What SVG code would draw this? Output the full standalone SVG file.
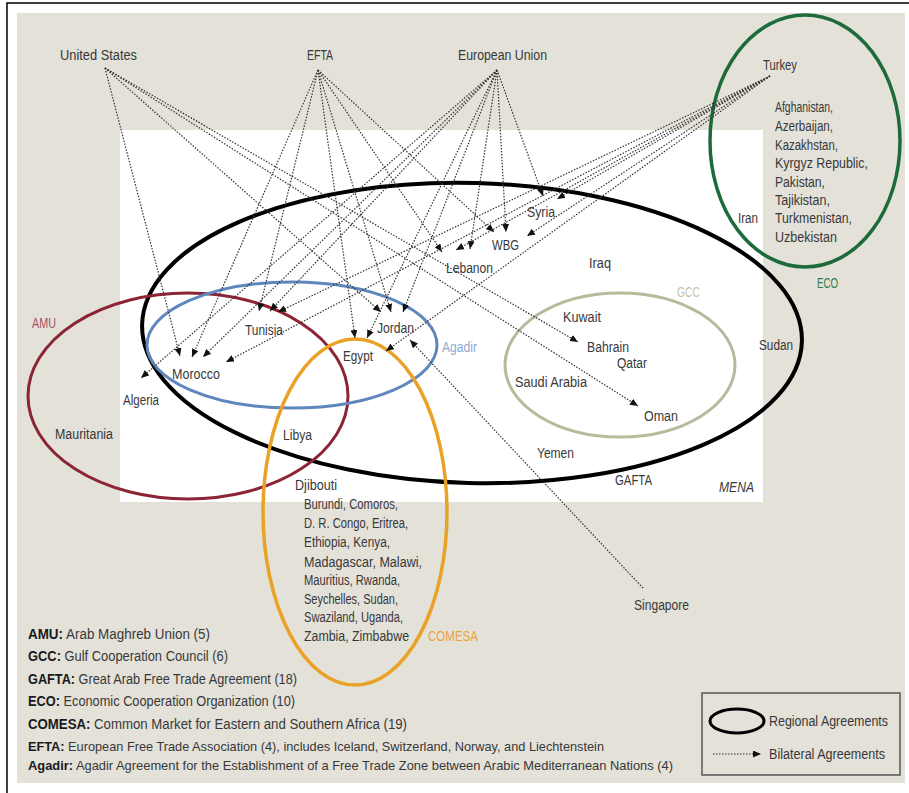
<svg xmlns="http://www.w3.org/2000/svg" width="909" height="793" viewBox="0 0 909 793">
<defs>
<style>
.t{font-family:"Liberation Sans",Arial,sans-serif;font-size:14px;fill:#383838}
.lg{font-family:"Liberation Sans",Arial,sans-serif;font-size:14px;fill:#383838}
.lg2{font-size:13.5px}
.b{font-weight:bold;fill:#1a1a1a}
.c{stroke:#333;stroke-width:1.2;stroke-dasharray:1.5 1.5;fill:none;marker-end:url(#ah)}
.reg{fill:none}
</style>
<marker id="ah" viewBox="0 0 8 7" refX="8" refY="3.5" markerWidth="8" markerHeight="7" markerUnits="userSpaceOnUse" orient="auto"><path d="M0,0 L8,3.5 L0,7 z" fill="#111"/></marker>
</defs>
<rect x="7" y="3" width="910" height="800" fill="#fff" stroke="#000" stroke-width="1.5"/>
<rect x="17" y="13" width="888" height="770" fill="#e4e1d9"/>
<rect x="120" y="130" width="643" height="372" fill="#fff"/>

<g id="regions">
<g id="GAFTA-region"><ellipse class="reg" cx="472" cy="333" rx="330" ry="150" transform="rotate(1.5 472 333)" stroke="#000" stroke-width="4"/></g>
<g id="AMU-region"><ellipse class="reg" cx="188" cy="396" rx="160" ry="103" stroke="#8b2535" stroke-width="3"/></g>
<g id="Agadir-region"><ellipse class="reg" cx="292" cy="345" rx="145" ry="63" stroke="#5d87bd" stroke-width="3"/></g>
<g id="COMESA-region"><ellipse class="reg" cx="355" cy="512" rx="92" ry="173" stroke="#e9a226" stroke-width="3.5"/></g>
<g id="GCC-region"><ellipse class="reg" cx="620" cy="365" rx="115" ry="72" stroke="#b9b99b" stroke-width="3"/></g>
<g id="ECO-region"><ellipse class="reg" cx="805" cy="141" rx="95" ry="126" stroke="#1d6b3b" stroke-width="3.5"/></g>
</g>

<g id="connectors">
<line class="c" x1="105" y1="68" x2="180" y2="356"/>
<line class="c" x1="105" y1="68" x2="381" y2="312"/>
<line class="c" x1="105" y1="68" x2="578" y2="342"/>
<line class="c" x1="105" y1="68" x2="638" y2="406"/>
<line class="c" x1="318" y1="70" x2="192" y2="357"/>
<line class="c" x1="318" y1="70" x2="259" y2="311"/>
<line class="c" x1="318" y1="70" x2="391" y2="312"/>
<line class="c" x1="318" y1="70" x2="355" y2="338"/>
<line class="c" x1="318" y1="70" x2="442" y2="252"/>
<line class="c" x1="318" y1="70" x2="494" y2="232"/>
<line class="c" x1="497" y1="70" x2="141" y2="378"/>
<line class="c" x1="497" y1="70" x2="203" y2="357"/>
<line class="c" x1="497" y1="70" x2="270" y2="311"/>
<line class="c" x1="497" y1="70" x2="367" y2="338"/>
<line class="c" x1="497" y1="70" x2="403" y2="312"/>
<line class="c" x1="497" y1="70" x2="470" y2="249"/>
<line class="c" x1="497" y1="70" x2="506" y2="232"/>
<line class="c" x1="497" y1="70" x2="543" y2="196"/>
<line class="c" x1="770" y1="76" x2="226" y2="362"/>
<line class="c" x1="770" y1="76" x2="278" y2="312"/>
<line class="c" x1="770" y1="76" x2="386" y2="351"/>
<line class="c" x1="770" y1="76" x2="456" y2="250"/>
<line class="c" x1="770" y1="76" x2="527" y2="236"/>
<line class="c" x1="770" y1="76" x2="557" y2="199"/>
<line class="c" x1="643" y1="588" x2="410" y2="340"/>
</g>

<g id="partners">
<g id="n-us"><text class="t" x="60" y="60" textLength="77" lengthAdjust="spacingAndGlyphs">United States</text></g>
<g id="n-efta"><text class="t" x="307" y="60" textLength="26" lengthAdjust="spacingAndGlyphs">EFTA</text></g>
<g id="n-eu"><text class="t" x="458" y="60" textLength="89" lengthAdjust="spacingAndGlyphs">European Union</text></g>
<g id="n-turkey"><text class="t" x="763" y="70" textLength="34" lengthAdjust="spacingAndGlyphs">Turkey</text></g>
<g id="n-singapore"><text class="t" x="634" y="610" textLength="55" lengthAdjust="spacingAndGlyphs">Singapore</text></g>
</g>

<g id="countries">
<g id="n-eco-list">
<text class="t" x="775" y="112" textLength="58" lengthAdjust="spacingAndGlyphs">Afghanistan,</text>
<text class="t" x="775" y="131" textLength="58" lengthAdjust="spacingAndGlyphs">Azerbaijan,</text>
<text class="t" x="775" y="150" textLength="63" lengthAdjust="spacingAndGlyphs">Kazakhstan,</text>
<text class="t" x="775" y="168" textLength="93" lengthAdjust="spacingAndGlyphs">Kyrgyz Republic,</text>
<text class="t" x="775" y="187" textLength="50" lengthAdjust="spacingAndGlyphs">Pakistan,</text>
<text class="t" x="775" y="205" textLength="55" lengthAdjust="spacingAndGlyphs">Tajikistan,</text>
<text class="t" x="775" y="223" textLength="77" lengthAdjust="spacingAndGlyphs">Turkmenistan,</text>
<text class="t" x="775" y="242" textLength="62" lengthAdjust="spacingAndGlyphs">Uzbekistan</text>
</g>
<g id="n-iran"><text class="t" x="738" y="223" textLength="20" lengthAdjust="spacingAndGlyphs">Iran</text></g>
<g id="n-syria"><text class="t" x="527" y="217" textLength="28" lengthAdjust="spacingAndGlyphs">Syria</text></g>
<g id="n-wbg"><text class="t" x="492" y="250" textLength="27" lengthAdjust="spacingAndGlyphs">WBG</text></g>
<g id="n-lebanon"><text class="t" x="446" y="273" textLength="47" lengthAdjust="spacingAndGlyphs">Lebanon</text></g>
<g id="n-iraq"><text class="t" x="589" y="268" textLength="22" lengthAdjust="spacingAndGlyphs">Iraq</text></g>
<g id="n-kuwait"><text class="t" x="563" y="322" textLength="38" lengthAdjust="spacingAndGlyphs">Kuwait</text></g>
<g id="n-bahrain"><text class="t" x="587" y="352" textLength="42" lengthAdjust="spacingAndGlyphs">Bahrain</text></g>
<g id="n-qatar"><text class="t" x="617" y="368" textLength="30" lengthAdjust="spacingAndGlyphs">Qatar</text></g>
<g id="n-saudi"><text class="t" x="515" y="387" textLength="72" lengthAdjust="spacingAndGlyphs">Saudi Arabia</text></g>
<g id="n-oman"><text class="t" x="644" y="421" textLength="34" lengthAdjust="spacingAndGlyphs">Oman</text></g>
<g id="n-sudan"><text class="t" x="759" y="350" textLength="34" lengthAdjust="spacingAndGlyphs">Sudan</text></g>
<g id="n-yemen"><text class="t" x="537" y="458" textLength="37" lengthAdjust="spacingAndGlyphs">Yemen</text></g>
<g id="n-jordan"><text class="t" x="377" y="333" textLength="37" lengthAdjust="spacingAndGlyphs">Jordan</text></g>
<g id="n-egypt"><text class="t" x="343" y="361" textLength="30" lengthAdjust="spacingAndGlyphs">Egypt</text></g>
<g id="n-tunisia"><text class="t" x="245" y="335" textLength="38" lengthAdjust="spacingAndGlyphs">Tunisia</text></g>
<g id="n-morocco"><text class="t" x="172" y="379" textLength="48" lengthAdjust="spacingAndGlyphs">Morocco</text></g>
<g id="n-algeria"><text class="t" x="123" y="405" textLength="36" lengthAdjust="spacingAndGlyphs">Algeria</text></g>
<g id="n-mauritania"><text class="t" x="55" y="439" textLength="58" lengthAdjust="spacingAndGlyphs">Mauritania</text></g>
<g id="n-libya"><text class="t" x="283" y="440" textLength="29" lengthAdjust="spacingAndGlyphs">Libya</text></g>
<g id="n-djibouti"><text class="t" x="295" y="490" textLength="42" lengthAdjust="spacingAndGlyphs">Djibouti</text></g>
<g id="n-comesa-list">
<text class="t" x="304" y="509" textLength="94" lengthAdjust="spacingAndGlyphs">Burundi, Comoros,</text>
<text class="t" x="304" y="528" textLength="104" lengthAdjust="spacingAndGlyphs">D. R. Congo, Eritrea,</text>
<text class="t" x="304" y="547" textLength="86" lengthAdjust="spacingAndGlyphs">Ethiopia, Kenya,</text>
<text class="t" x="304" y="567" textLength="118" lengthAdjust="spacingAndGlyphs">Madagascar, Malawi,</text>
<text class="t" x="304" y="585" textLength="96" lengthAdjust="spacingAndGlyphs">Mauritius, Rwanda,</text>
<text class="t" x="304" y="604" textLength="94" lengthAdjust="spacingAndGlyphs">Seychelles, Sudan,</text>
<text class="t" x="304" y="622" textLength="99" lengthAdjust="spacingAndGlyphs">Swaziland, Uganda,</text>
<text class="t" x="304" y="641" textLength="105" lengthAdjust="spacingAndGlyphs">Zambia, Zimbabwe</text>
</g>
</g>

<g id="region-labels">
<text class="t" x="677" y="297" textLength="23" lengthAdjust="spacingAndGlyphs" style="fill:#c4c4ac">GCC</text>
<text class="t" x="442" y="352" textLength="35" lengthAdjust="spacingAndGlyphs" style="fill:#8eaad2">Agadir</text>
<text class="t" x="32" y="328" textLength="24" lengthAdjust="spacingAndGlyphs" style="fill:#a8505e">AMU</text>
<text class="t" x="817" y="288" textLength="21" lengthAdjust="spacingAndGlyphs" style="fill:#2e7d4a">ECO</text>
<text class="t" x="428" y="641" textLength="50" lengthAdjust="spacingAndGlyphs" style="fill:#eaa43a">COMESA</text>
<text class="t" x="615" y="485" textLength="37" lengthAdjust="spacingAndGlyphs">GAFTA</text>
<text class="t" x="719" y="492" textLength="35" lengthAdjust="spacingAndGlyphs" style="font-style:italic">MENA</text>
</g>

<g id="key">
<text class="lg" x="28" y="639" textLength="182" lengthAdjust="spacingAndGlyphs"><tspan class="b">AMU:</tspan> Arab Maghreb Union (5)</text>
<text class="lg" x="28" y="661" textLength="200" lengthAdjust="spacingAndGlyphs"><tspan class="b">GCC:</tspan> Gulf Cooperation Council (6)</text>
<text class="lg" x="28" y="684" textLength="269" lengthAdjust="spacingAndGlyphs"><tspan class="b">GAFTA:</tspan> Great Arab Free Trade Agreement (18)</text>
<text class="lg" x="28" y="706" textLength="267" lengthAdjust="spacingAndGlyphs"><tspan class="b">ECO:</tspan> Economic Cooperation Organization (10)</text>
<text class="lg" x="28" y="729" textLength="379" lengthAdjust="spacingAndGlyphs"><tspan class="b">COMESA:</tspan> Common Market for Eastern and Southern Africa (19)</text>
<text class="lg lg2" x="28" y="751" textLength="576" lengthAdjust="spacingAndGlyphs"><tspan class="b">EFTA:</tspan> European Free Trade Association (4), includes Iceland, Switzerland, Norway, and Liechtenstein</text>
<text class="lg lg2" x="28" y="770" textLength="645" lengthAdjust="spacingAndGlyphs"><tspan class="b">Agadir:</tspan> Agadir Agreement for the Establishment of a Free Trade Zone between Arabic Mediterranean Nations (4)</text>
</g>

<g id="legend">
<rect x="702" y="693" width="198" height="82" fill="none" stroke="#555" stroke-width="1.5"/>
<ellipse cx="737" cy="721" rx="27" ry="12" fill="none" stroke="#000" stroke-width="3"/>
<text class="t" x="769" y="726" textLength="119" lengthAdjust="spacingAndGlyphs">Regional Agreements</text>
<line class="c" x1="713" y1="754" x2="761" y2="754"/>
<text class="t" x="769" y="759" textLength="116" lengthAdjust="spacingAndGlyphs">Bilateral Agreements</text>
</g>
</svg>
